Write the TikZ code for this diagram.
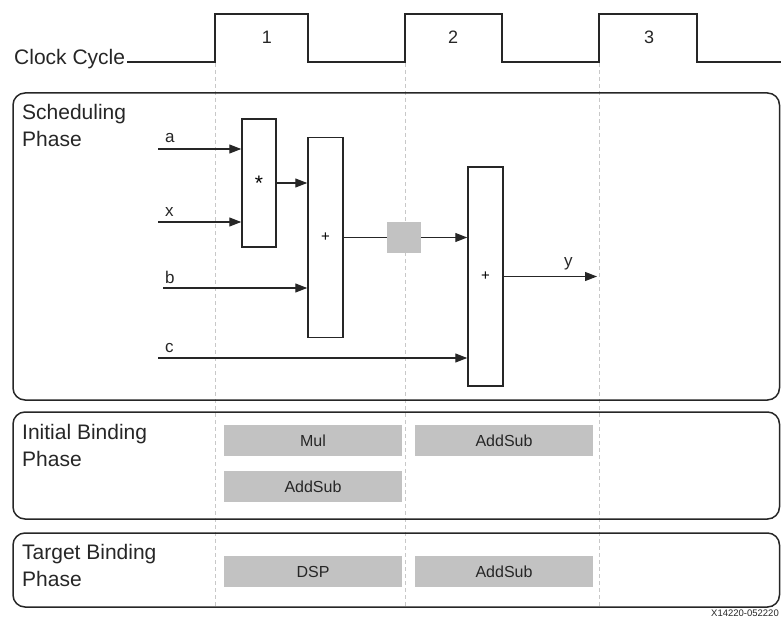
\documentclass[tikz,border=0pt]{standalone}
\usepackage{fontspec}
\setmainfont{Liberation Sans}
\usetikzlibrary{arrows.meta}
\definecolor{inkgray}{HTML}{262626}
\definecolor{barfill}{HTML}{C2C2C2}
\definecolor{gridgray}{HTML}{C8C8C8}
\tikzset{
  opbox/.style = {draw=inkgray, line width=1.5bp, fill=white, minimum width=35bp, inner sep=0, font=\fontsize{15bp}{15bp}\selectfont},
  regbox/.style = {fill=barfill, minimum width=34bp, minimum height=30bp, inner sep=0},
  unitbar/.style = {fill=barfill, minimum width=178bp, minimum height=31bp, inner sep=0, text=inkgray, font=\fontsize{16bp}{16bp}\selectfont},
  phasebox/.style = {draw=inkgray, line width=1.5bp, rounded corners=12bp},
  phaselbl/.style = {anchor=north west, align=left, inner sep=0, text=inkgray, font=\fontsize{21bp}{27bp}\selectfont},
  lbl/.style = {anchor=base west, inner sep=0, text=inkgray, font=\fontsize{17bp}{17bp}\selectfont},
  wire/.style = {draw=inkgray, line width=1.2bp},
  sig/.style = {wire, -{Triangle[length=12bp,width=9bp]}},
  grid/.style = {draw=gridgray, line width=0.8bp, dash pattern=on 4bp off 3bp}
}
\begin{document}
\begin{tikzpicture}[x=1bp, y=-1bp]
  \useasboundingbox (0,0) rectangle (781,619);
  % cycle boundaries
  \foreach \gx in {215, 405, 599} {
    \draw[grid] (\gx,63) -- (\gx,607);
  }
  % clock
  \node[lbl, font=\fontsize{21bp}{21bp}\selectfont] (clk) at (14,65) {Clock Cycle};
  \draw[inkgray, line width=1.5bp] (clk.base east) ++(2,-3) -- (215,62) -- (215,14) -- (308,14) -- (308,62)
    -- (405,62) -- (405,14) -- (502,14) -- (502,62) -- (599,62) -- (599,14) -- (697,14) -- (697,62) -- (781,62);
  \foreach \n/\cx in {1/267, 2/453, 3/649} {
    \node[text=inkgray, font=\fontsize{18bp}{18bp}\selectfont] (cyc\n) at (\cx,37) {\n};
  }
  % phases
  \draw[phasebox] (13,93) rectangle (779.5,400);
  \draw[phasebox] (13,412) rectangle (779.5,519);
  \draw[phasebox] (13,533) rectangle (779.5,607);
  \node[phaselbl] (sched) at (22,104.5) {Scheduling\\Phase};
  \node[phaselbl] (initb) at (22,424.5) {Initial Binding\\Phase};
  \node[phaselbl] (targb) at (22,544.5) {Target Binding\\Phase};
  % operators
  \node[opbox, minimum width=34bp, minimum height=128bp, font=\fontsize{21bp}{21bp}\selectfont] (mul) at (259,183) {*};
  \node[opbox, minimum height=200bp] (add1) at (325.5,237.5) {+};
  \node[opbox, minimum height=219bp] (add2) at (485.5,276.5) {+};
  \node[regbox] (reg) at (404,237.5) {};
  % inputs
  \coordinate (ina) at (158,149);
  \coordinate (inx) at (158,222);
  \coordinate (inb) at (163,288);
  \coordinate (inc) at (158,358);
  \coordinate (yout) at (597,276.5);
  \node[lbl] (la) at (165,143) {a};
  \node[lbl] (lx) at (165,217) {x};
  \node[lbl] (lb) at (165,283) {b};
  \node[lbl] (lc) at (165,352) {c};
  \node[lbl] (ly) at (564,266) {y};
  \draw[sig] (ina) -- (ina -| mul.west);
  \draw[sig] (inx) -- (inx -| mul.west);
  \draw[sig] (inb) -- (inb -| add1.west);
  \draw[sig] (inc) -- (inc -| add2.west);
  \draw[sig] (mul.east) -- (mul.east -| add1.west);
  \draw[wire] (add1.east) -- (reg.west);
  \draw[sig] (reg.east) -- (reg.east -| add2.west);
  \draw[sig] (add2.east) -- (yout);
  % bound units
  \foreach \name/\cx/\cy/\txt in {imul/313/440.5/Mul, iadd/504/440.5/AddSub, iadd2/313/486.5/AddSub,
      tdsp/313/571.5/DSP, tadd/504/571.5/AddSub} {
    \node[unitbar] (\name) at (\cx,\cy) {\txt};
  }
  \node[anchor=base east, inner sep=0, text=inkgray, font=\fontsize{9.5bp}{9.5bp}\selectfont] (tag) at (779,616.5) {X14220-052220};
\end{tikzpicture}
\end{document}
